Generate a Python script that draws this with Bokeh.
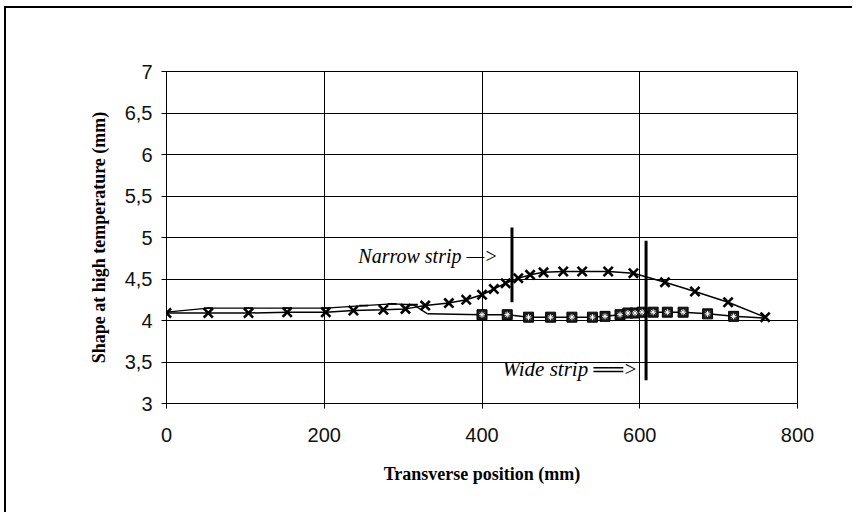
from bokeh.plotting import figure
from bokeh.models import Label, FixedTicker, CustomJSTickFormatter, Range1d
from bokeh.embed import file_html
from bokeh.resources import INLINE

# ---- data ----
x_ticks = [0, 200, 400, 600, 800]
y_ticks = [3, 3.5, 4, 4.5, 5, 5.5, 6, 6.5, 7]

# series with "x" markers
cross_x = [0, 53, 104, 153, 202, 237, 275, 303, 328, 358, 380, 400, 415, 430,
           446, 461, 478, 503, 527, 560, 592, 632, 670, 712, 759]
cross_y = [4.09, 4.09, 4.09, 4.10, 4.10, 4.12, 4.13, 4.14, 4.18, 4.21, 4.25, 4.31,
           4.38, 4.45, 4.51, 4.55, 4.58, 4.59, 4.59, 4.59, 4.57, 4.46, 4.35, 4.22, 4.04]

# series with dash markers
dash_x = [0, 53, 104, 153, 202, 250, 286, 313, 331]
dash_y = [4.10, 4.15, 4.15, 4.15, 4.15, 4.18, 4.20, 4.19, 4.08]

# series with square markers
square_x = [331, 400, 432, 459, 487, 514, 540, 556, 575, 585, 594, 603, 617,
            635, 655, 686, 719, 759]
square_y = [4.08, 4.07, 4.07, 4.04, 4.04, 4.04, 4.04, 4.05, 4.07, 4.09, 4.09,
            4.10, 4.10, 4.10, 4.10, 4.08, 4.05, 4.03]

# annotations
narrow_label = "Narrow strip \u2014>"
wide_label = "Wide strip \u2550\u2550>"
narrow_mark_x = [438, 438]
narrow_mark_y = [4.22, 5.12]
wide_mark_x = [608, 608]
wide_mark_y = [3.28, 4.96]
narrow_label_pos = (420, 4.78)
wide_label_pos = (597, 3.42)

p = figure(width=848, height=506, x_range=Range1d(0, 800), y_range=Range1d(3, 7),
           output_backend="svg", toolbar_location=None,
           min_border_left=160, min_border_right=57, min_border_top=63,
           min_border_bottom=111)
p.styles = {"border-top": "2px solid black", "border-left": "2px solid black",
            "margin-left": "4px", "margin-top": "6px"}

p.background_fill_color = "white"
p.border_fill_color = "white"
p.outline_line_color = "black"
p.outline_line_width = 1

p.xaxis.ticker = FixedTicker(ticks=x_ticks)
p.yaxis.ticker = FixedTicker(ticks=y_ticks)
p.yaxis.formatter = CustomJSTickFormatter(code="return tick.toString().replace('.', ',');")

for ax in (p.xaxis[0], p.yaxis[0]):
    ax.axis_line_color = "black"
    ax.major_tick_line_color = "black"
    ax.major_tick_out = 5
    ax.major_tick_in = 0
    ax.minor_tick_line_color = None
    ax.major_label_text_font = "Liberation Sans"
    ax.major_label_text_font_size = "20px"
    ax.major_label_text_color = "#111111"
    ax.axis_label_text_font = "Liberation Serif"
    ax.axis_label_text_font_style = "bold"
    ax.axis_label_text_font_size = "18px"
    ax.axis_label_text_color = "black"

p.xaxis.axis_label = "Transverse position (mm)"
p.yaxis.axis_label = "Shape at high temperature (mm)"
p.yaxis.major_label_standoff = 9
p.xaxis.major_label_standoff = 19
p.yaxis.axis_label_standoff = 13
p.xaxis.axis_label_standoff = 19

p.xgrid.grid_line_color = "black"
p.ygrid.grid_line_color = "black"
p.xgrid.grid_line_width = 1
p.ygrid.grid_line_width = 1

# lines
p.line(dash_x, dash_y, line_color="black", line_width=1.3)
p.line(square_x, square_y, line_color="black", line_width=1.5)
p.line(cross_x, cross_y, line_color="black", line_width=1.5)

# markers
p.scatter(dash_x[1:-1], dash_y[1:-1], marker="dash", size=9, line_color="black", line_width=1.8)
p.scatter(square_x[1:-1], square_y[1:-1], marker="square", size=10,
          fill_color="#1a1a1a", line_color="black", line_width=1)
p.scatter(square_x[1:-1], square_y[1:-1], marker="asterisk", size=6,
          line_color="white", line_width=1)
p.scatter(cross_x, cross_y, marker="x", size=13, line_color="black", line_width=2.6)

# strip boundary marks
p.line(narrow_mark_x, narrow_mark_y, line_color="black", line_width=3)
p.line(wide_mark_x, wide_mark_y, line_color="black", line_width=3)

p.add_layout(Label(x=narrow_label_pos[0], y=narrow_label_pos[1], text=narrow_label,
                   text_font="Liberation Serif", text_font_style="italic",
                   text_font_size="20px", text_align="right", text_baseline="middle",
                   text_color="black"))
p.add_layout(Label(x=wide_label_pos[0], y=wide_label_pos[1], text=wide_label,
                   text_font="Liberation Serif", text_font_style="italic",
                   text_font_size="21px", text_align="right", text_baseline="middle",
                   text_color="black"))

open("out.html", "w").write(file_html(p, INLINE))
